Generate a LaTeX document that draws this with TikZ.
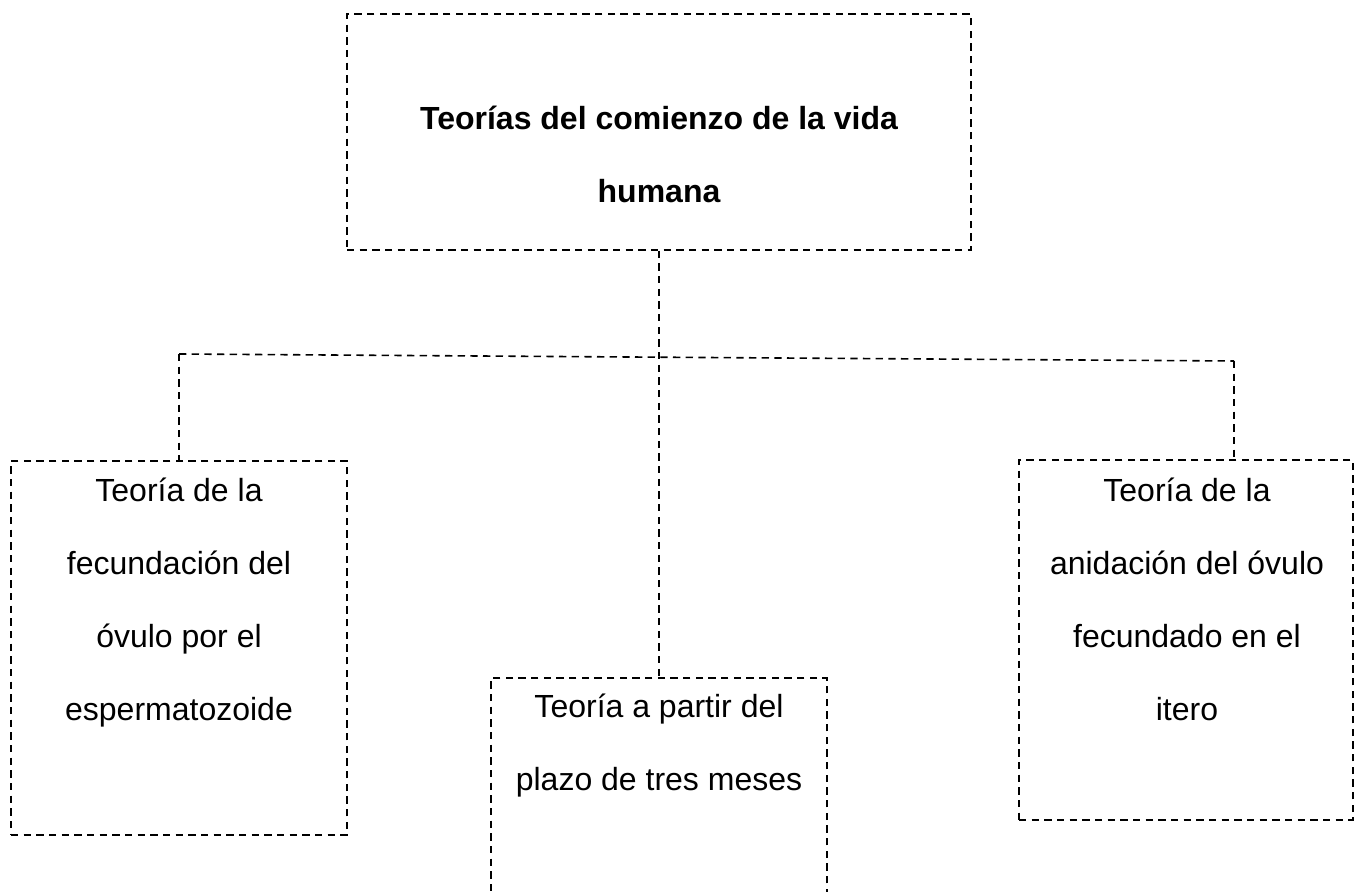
\documentclass[tikz,border=0pt]{standalone}
\usepackage{fontspec}
\setmainfont{Liberation Sans}
\usetikzlibrary{positioning}

\begin{document}
\begin{tikzpicture}[x=0.75pt, y=-0.75pt, line width=1.2pt, align=center,
                    font=\fontsize{24pt}{54.8pt}\selectfont]

    \tikzstyle{caja}=[draw=black, dash pattern=on 5.5pt off 4pt, inner sep=0pt]
    \tikzstyle{texto}=[anchor=north, inner sep=0pt]
    \tikzstyle{linea}=[draw=black, dash pattern=on 5.5pt off 4pt]

    \clip (0,0) rectangle (1356,892);

    % cajas
    \node[caja, minimum width=468pt, minimum height=177pt]   (raiz)   at (659,132)  {};
    \node[caja, minimum width=252pt, minimum height=280.5pt] (fecund) at (179,648)  {};
    \node[caja, minimum width=252pt, minimum height=225pt]   (medio)  at (659,828)  {};
    \node[caja, minimum width=250.5pt, minimum height=270pt] (anid)   at (1186,640) {};

    % textos
    \node[texto, font=\fontsize{24pt}{54.8pt}\selectfont\bfseries] (raiztxt) at (659,105)
          {Teorías del comienzo de la vida\\humana};
    \node[texto] (fecundtxt) at (179,477)
          {Teoría de la\\fecundación del\\óvulo por el\\espermatozoide};
    \node[texto] (mediotxt) at (659,693)
          {Teoría a partir del\\plazo de tres meses};
    \node[texto] (anidtxt) at (1187,477)
          {Teoría de la\\anidación del óvulo\\fecundado en el\\itero};

    % conectores
    \coordinate (izq) at (179,354);
    \coordinate (der) at (1234,361);

    \draw[linea] (raiz.south) -- (medio.north);
    \draw[linea] (izq) -- (der);
    \draw[linea] (izq) -- (fecund.north);
    \draw[linea] (der) -- (der |- anid.north);
\end{tikzpicture}
\end{document}
